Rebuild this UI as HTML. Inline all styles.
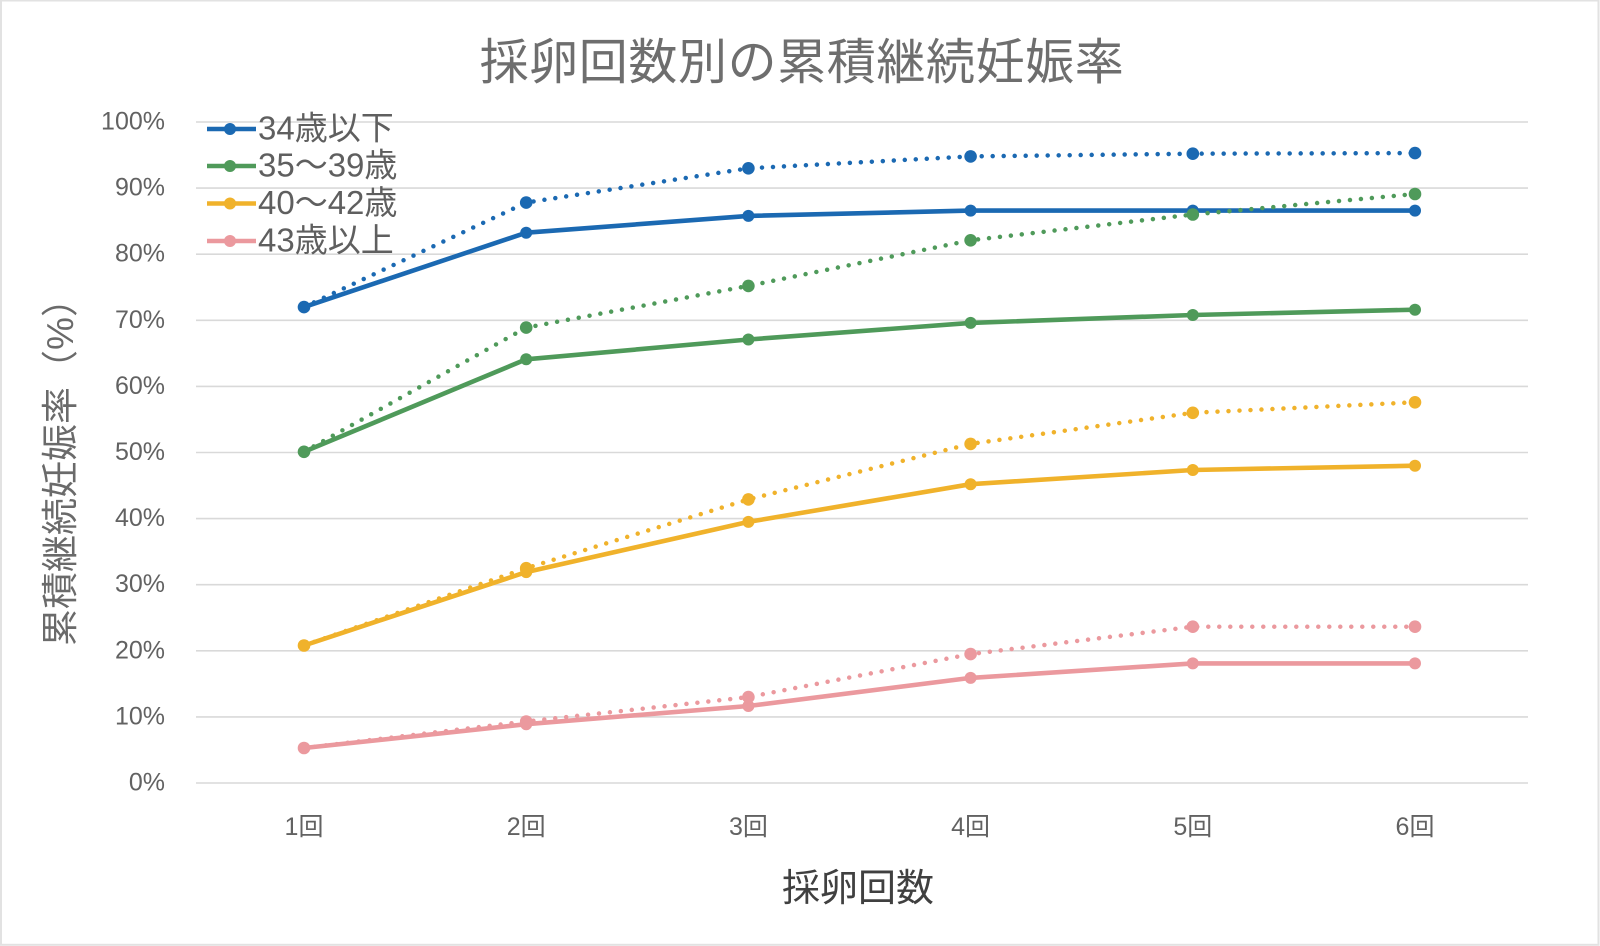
<!DOCTYPE html>
<html>
<head>
<meta charset="utf-8">
<style>
html,body{margin:0;padding:0;background:#fff;}
svg{display:block;}
text{font-family:"Liberation Sans","Noto Sans CJK JP",sans-serif;}
</style>
</head>
<body>
<svg width="1600" height="946" viewBox="0 0 1600 946" xmlns="http://www.w3.org/2000/svg">
<rect x="0" y="0" width="1600" height="946" fill="#fff"/>
<rect x="1" y="0.5" width="1597.5" height="944.3" fill="none" stroke="#e2e2e2" stroke-width="2"/>

<!-- title -->
<text x="802" y="79" font-size="49" fill="#6e6e6e" text-anchor="middle" letter-spacing="0.6">採卵回数別の累積継続妊娠率</text>

<!-- gridlines -->
<g stroke="#d9d9d9" stroke-width="1.6">
<line x1="196" y1="783" x2="1528" y2="783"/>
<line x1="196" y1="716.9" x2="1528" y2="716.9"/>
<line x1="196" y1="650.8" x2="1528" y2="650.8"/>
<line x1="196" y1="584.7" x2="1528" y2="584.7"/>
<line x1="196" y1="518.6" x2="1528" y2="518.6"/>
<line x1="196" y1="452.5" x2="1528" y2="452.5"/>
<line x1="196" y1="386.4" x2="1528" y2="386.4"/>
<line x1="196" y1="320.3" x2="1528" y2="320.3"/>
<line x1="196" y1="254.2" x2="1528" y2="254.2"/>
<line x1="196" y1="188.1" x2="1528" y2="188.1"/>
<line x1="196" y1="122" x2="1528" y2="122"/>
</g>

<!-- y tick labels -->
<g font-size="25" fill="#626262" text-anchor="end">
<text x="165" y="790.5">0%</text>
<text x="165" y="724.4">10%</text>
<text x="165" y="658.3">20%</text>
<text x="165" y="592.2">30%</text>
<text x="165" y="526.1">40%</text>
<text x="165" y="460">50%</text>
<text x="165" y="393.9">60%</text>
<text x="165" y="327.8">70%</text>
<text x="165" y="261.7">80%</text>
<text x="165" y="195.6">90%</text>
<text x="165" y="129.5">100%</text>
</g>

<!-- x tick labels -->
<g font-size="25" fill="#626262" text-anchor="middle">
<text x="304" y="835">1回</text>
<text x="526.2" y="835">2回</text>
<text x="748.4" y="835">3回</text>
<text x="970.6" y="835">4回</text>
<text x="1192.8" y="835">5回</text>
<text x="1415" y="835">6回</text>
</g>

<!-- axis titles -->
<text x="858" y="901" font-size="38" fill="#404040" text-anchor="middle">採卵回数</text>
<text transform="translate(73,463) rotate(-90)" font-size="37" fill="#6a6a6a" text-anchor="middle">累積継続妊娠率（%）</text>

<!-- solid series -->
<g fill="none" stroke-width="4.6" stroke-linejoin="round" stroke-linecap="round">
<polyline stroke="#1b69b2" points="304,307.1 526.2,232.7 748.4,215.9 970.6,210.6 1192.8,210.6 1415,210.6"/>
<polyline stroke="#4f9a5a" points="304,451.8 526.2,359.3 748.4,339.5 970.6,322.9 1192.8,315 1415,309.7"/>
<polyline stroke="#f0b22b" points="304,645.5 526.2,572.1 748.4,521.9 970.6,484.2 1192.8,470 1415,465.7"/>
<polyline stroke="#eb999e" points="304,748 526.2,724.2 748.4,706 970.6,677.9 1192.8,663.4 1415,663.4"/>
</g>
<g fill="#1b69b2"><circle cx="304" cy="307.1" r="6"/><circle cx="526.2" cy="232.7" r="6"/><circle cx="748.4" cy="215.9" r="6"/><circle cx="970.6" cy="210.6" r="6"/><circle cx="1192.8" cy="210.6" r="6"/><circle cx="1415" cy="210.6" r="6"/></g>
<g fill="#4f9a5a"><circle cx="304" cy="451.8" r="6"/><circle cx="526.2" cy="359.3" r="6"/><circle cx="748.4" cy="339.5" r="6"/><circle cx="970.6" cy="322.9" r="6"/><circle cx="1192.8" cy="315" r="6"/><circle cx="1415" cy="309.7" r="6"/></g>
<g fill="#f0b22b"><circle cx="304" cy="645.5" r="6"/><circle cx="526.2" cy="572.1" r="6"/><circle cx="748.4" cy="521.9" r="6"/><circle cx="970.6" cy="484.2" r="6"/><circle cx="1192.8" cy="470" r="6"/><circle cx="1415" cy="465.7" r="6"/></g>
<g fill="#eb999e"><circle cx="304" cy="748" r="6"/><circle cx="526.2" cy="724.2" r="6"/><circle cx="748.4" cy="706" r="6"/><circle cx="970.6" cy="677.9" r="6"/><circle cx="1192.8" cy="663.4" r="6"/><circle cx="1415" cy="663.4" r="6"/></g>

<!-- dotted series -->
<g fill="none" stroke-width="4.5" stroke-linecap="round" stroke-dasharray="0 11">
<polyline stroke="#1b69b2" points="304,307.1 526.2,202.6 748.4,168.3 970.6,156.4 1192.8,153.7 1415,153.1"/>
<polyline stroke="#4f9a5a" points="304,451.8 526.2,327.6 748.4,285.9 970.6,240.3 1192.8,214.5 1415,194"/>
<polyline stroke="#f0b22b" points="304,645.5 526.2,568.2 748.4,499.4 970.6,443.9 1192.8,412.8 1415,402.3"/>
<polyline stroke="#eb999e" points="304,748 526.2,721.5 748.4,697.1 970.6,654.1 1192.8,626.7 1415,626.7"/>
</g>
<g fill="#1b69b2"><circle cx="304" cy="307.1" r="6.3"/><circle cx="526.2" cy="202.6" r="6.3"/><circle cx="748.4" cy="168.3" r="6.3"/><circle cx="970.6" cy="156.4" r="6.3"/><circle cx="1192.8" cy="153.7" r="6.3"/><circle cx="1415" cy="153.1" r="6.3"/></g>
<g fill="#4f9a5a"><circle cx="304" cy="451.8" r="6.3"/><circle cx="526.2" cy="327.6" r="6.3"/><circle cx="748.4" cy="285.9" r="6.3"/><circle cx="970.6" cy="240.3" r="6.3"/><circle cx="1192.8" cy="214.5" r="6.3"/><circle cx="1415" cy="194" r="6.3"/></g>
<g fill="#f0b22b"><circle cx="304" cy="645.5" r="6.3"/><circle cx="526.2" cy="568.2" r="6.3"/><circle cx="748.4" cy="499.4" r="6.3"/><circle cx="970.6" cy="443.9" r="6.3"/><circle cx="1192.8" cy="412.8" r="6.3"/><circle cx="1415" cy="402.3" r="6.3"/></g>
<g fill="#eb999e"><circle cx="304" cy="748" r="6.3"/><circle cx="526.2" cy="721.5" r="6.3"/><circle cx="748.4" cy="697.1" r="6.3"/><circle cx="970.6" cy="654.1" r="6.3"/><circle cx="1192.8" cy="626.7" r="6.3"/><circle cx="1415" cy="626.7" r="6.3"/></g>

<!-- legend -->
<g stroke-width="4.6">
<line x1="207" y1="129" x2="256" y2="129" stroke="#1b69b2"/>
<line x1="207" y1="166" x2="256" y2="166" stroke="#4f9a5a"/>
<line x1="207" y1="203.5" x2="256" y2="203.5" stroke="#f0b22b"/>
<line x1="207" y1="241" x2="256" y2="241" stroke="#eb999e"/>
</g>
<circle cx="230" cy="129" r="6" fill="#1b69b2"/>
<circle cx="230" cy="166" r="6" fill="#4f9a5a"/>
<circle cx="230" cy="203.5" r="6" fill="#f0b22b"/>
<circle cx="230" cy="241" r="6" fill="#eb999e"/>
<g font-size="33" fill="#5f5f5f">
<text x="258" y="139.5">34歳以下</text>
<text x="258" y="176.5">35〜39歳</text>
<text x="258" y="214">40〜42歳</text>
<text x="258" y="251.5">43歳以上</text>
</g>
</svg>
</body>
</html>
